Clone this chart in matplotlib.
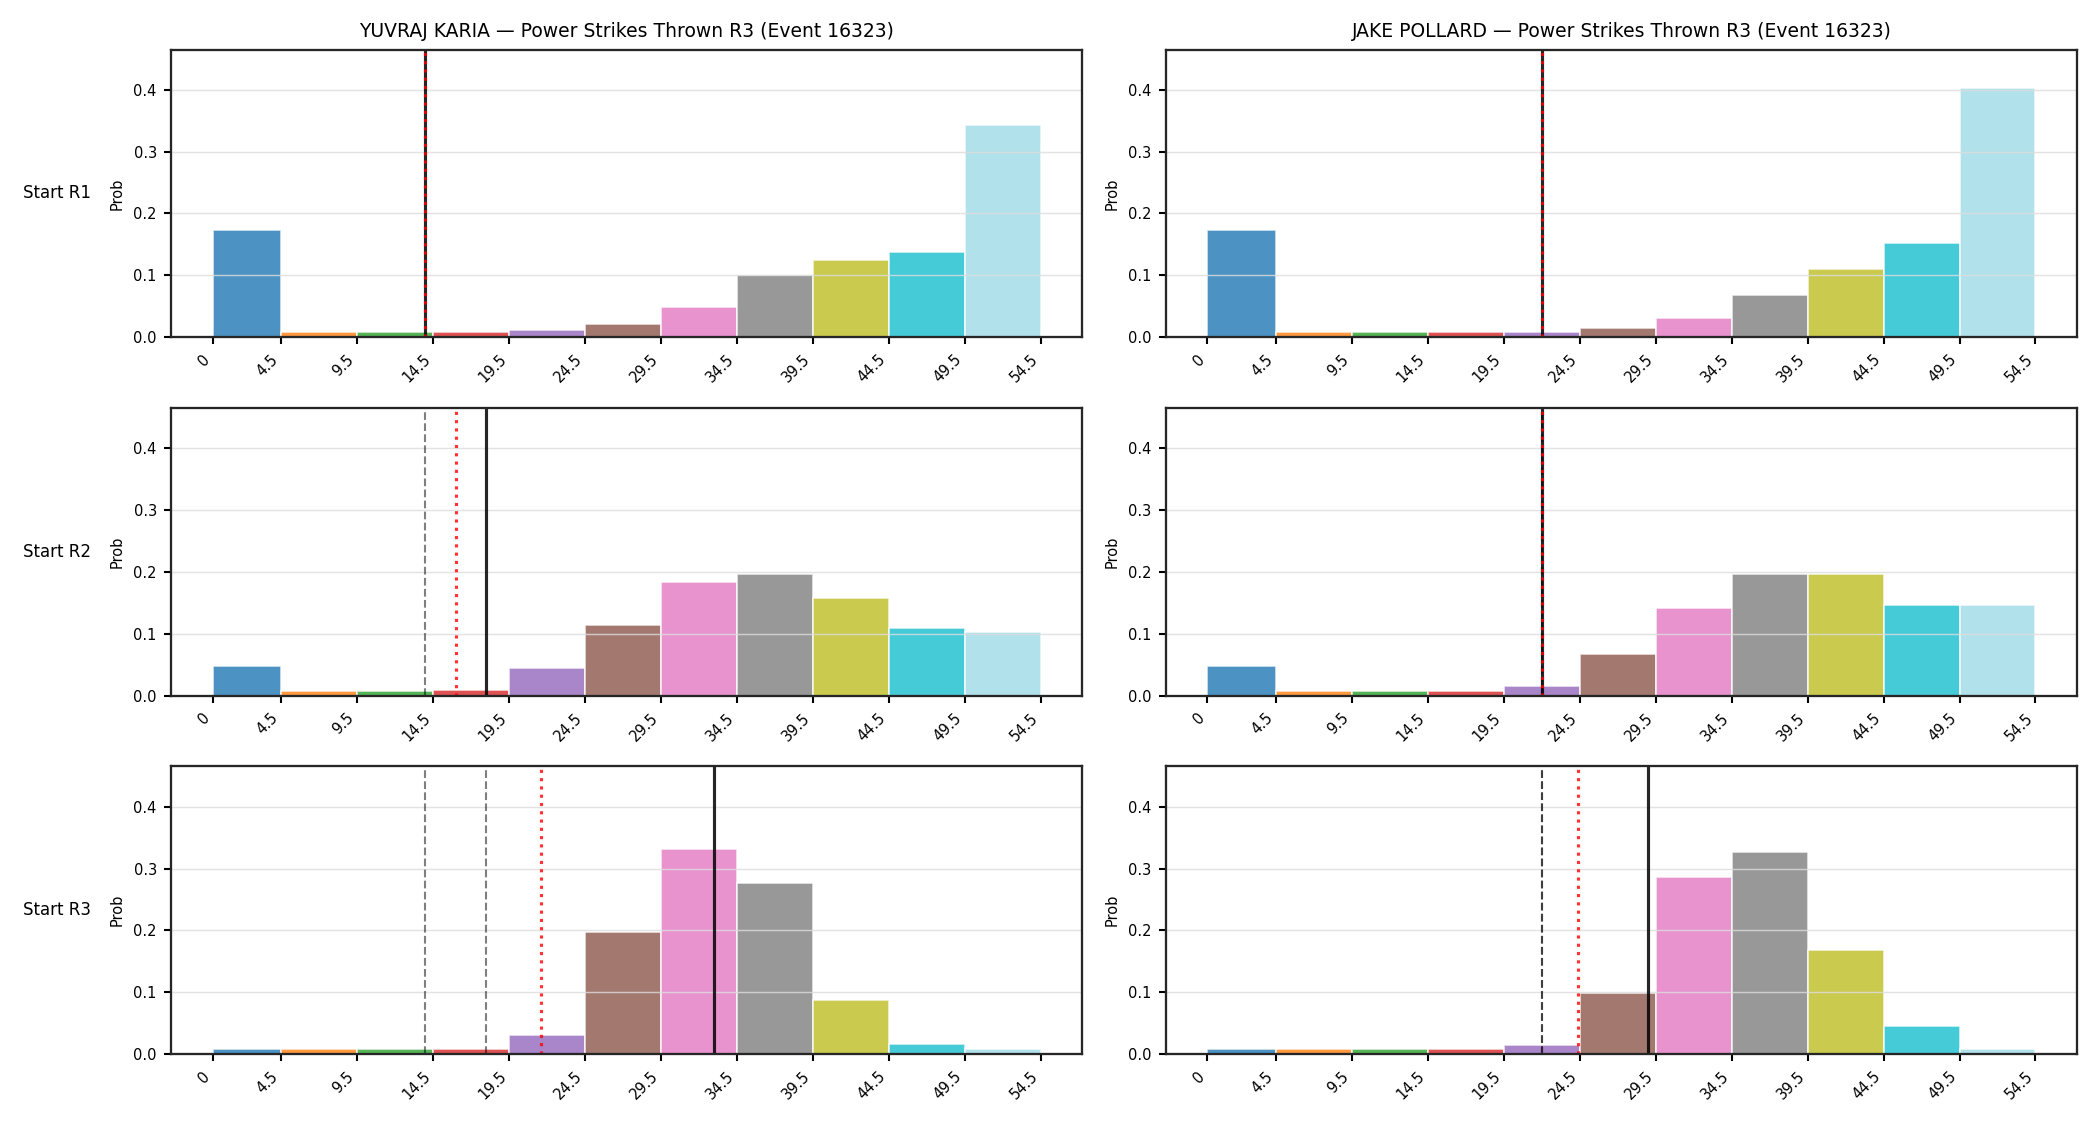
import numpy as np
import matplotlib
matplotlib.use("Agg")
import matplotlib.pyplot as plt

# ---- data ----
fighters = ["YUVRAJ KARIA", "JAKE POLLARD"]
title_suffix = "Power Strikes Thrown R3 (Event 16323)"
row_labels = ["Start R1", "Start R2", "Start R3"]
bin_edges = [0, 4.5, 9.5, 14.5, 19.5, 24.5, 29.5, 34.5, 39.5, 44.5, 49.5, 54.5]
tick_labels = ["0", "4.5", "9.5", "14.5", "19.5", "24.5", "29.5", "34.5", "39.5", "44.5", "49.5", "54.5"]

karia_r1 = [0.173, 0.009, 0.008, 0.008, 0.011, 0.021, 0.048, 0.100, 0.125, 0.137, 0.343]
karia_r2 = [0.048, 0.008, 0.008, 0.009, 0.044, 0.114, 0.184, 0.196, 0.158, 0.110, 0.103]
karia_r3 = [0.008, 0.008, 0.008, 0.008, 0.031, 0.198, 0.332, 0.277, 0.088, 0.016, 0.008]

pollard_r1 = [0.173, 0.008, 0.008, 0.008, 0.008, 0.015, 0.031, 0.068, 0.110, 0.153, 0.402]
pollard_r2 = [0.048, 0.008, 0.008, 0.008, 0.015, 0.068, 0.141, 0.197, 0.197, 0.147, 0.147]
pollard_r3 = [0.008, 0.008, 0.008, 0.008, 0.015, 0.099, 0.287, 0.326, 0.168, 0.045, 0.008]

probs = [[karia_r1, karia_r2, karia_r3], [pollard_r1, pollard_r2, pollard_r3]]

# reference lines per panel
karia_solid = [14, 18, 33]
karia_dotted = [14, 16.0, 21.6]
karia_dashed = [[], [14], [14, 18]]
pollard_solid = [22, 22, 29]
pollard_dotted = [22, 22, 24.4]
pollard_dashed = [[], [22], [22, 22]]

solid_lines = [karia_solid, pollard_solid]
dotted_lines = [karia_dotted, pollard_dotted]
dashed_lines = [karia_dashed, pollard_dashed]

# ---- plot ----
plt.rcParams['font.family'] = ['DejaVu Sans']
fig, axes = plt.subplots(3, 2, figsize=(14, 7.5), dpi=150)
fig.subplots_adjust(left=0.0816, right=0.989, top=0.956, bottom=0.063,
                    wspace=0.092, hspace=0.246)

colors = plt.cm.tab20(np.linspace(0, 1, len(bin_edges) - 1))
edges = np.array(bin_edges)
lefts = edges[:-1]
widths = np.diff(edges)

for c in range(2):
    for r in range(3):
        ax = axes[r, c]
        ax.bar(lefts, probs[c][r], width=widths, align='edge', color=colors,
               alpha=0.8, edgecolor='white', linewidth=0.8)
        for d in dashed_lines[c][r]:
            ax.axvline(d, color='black', linestyle='--', linewidth=1.0, alpha=0.5)
        ax.axvline(solid_lines[c][r], color='black', linestyle='-', linewidth=1.5, alpha=0.85)
        ax.axvline(dotted_lines[c][r], color='red', linestyle=':', linewidth=1.5, alpha=0.8)
        ax.set_ylim(0, 0.465)
        ax.set_xticks(bin_edges)
        ax.set_xticklabels(tick_labels, rotation=45, ha='right', fontsize=7)
        ax.set_yticks([0, 0.1, 0.2, 0.3, 0.4])
        ax.tick_params(axis='y', labelsize=7)
        ax.tick_params(width=1.0)
        ax.set_ylabel("Prob", fontsize=7)
        ax.grid(axis='y', color='#dddddd', linewidth=0.7, alpha=0.8)
        for sp in ax.spines.values():
            sp.set_color('#262626')
            sp.set_linewidth(1.1)
        if r == 0:
            ax.set_title(f"{fighters[c]} \u2014 {title_suffix}", fontsize=9)

for r in range(3):
    pos = axes[r, 0].get_position()
    fig.text(0.011, (pos.y0 + pos.y1) / 2, row_labels[r], ha='left', va='center', fontsize=8)

fig.savefig("out.png", dpi=150)
